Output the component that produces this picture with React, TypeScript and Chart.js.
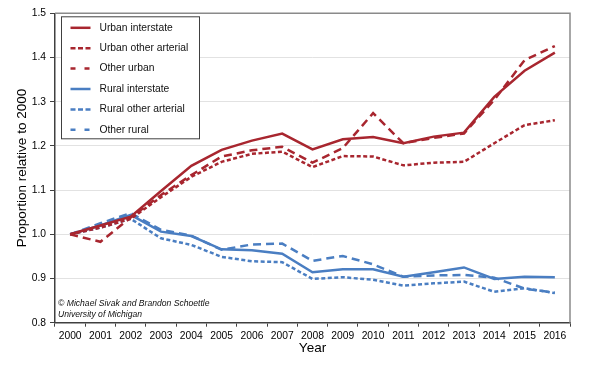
import React, { useEffect, useRef } from "react";
import { Chart, registerables } from "chart.js";

Chart.register(...registerables);

const years = ["2000","2001","2002","2003","2004","2005","2006","2007","2008","2009","2010","2011","2012","2013","2014","2015","2016"];
const urbanInterstate = [1.000,1.020,1.040,1.098,1.155,1.191,1.212,1.228,1.192,1.215,1.220,1.206,1.221,1.230,1.311,1.370,1.411];
const urbanOtherArterial = [1.000,1.015,1.035,1.084,1.130,1.164,1.182,1.187,1.152,1.177,1.176,1.156,1.162,1.164,1.206,1.247,1.258];
const otherUrban = [1.000,0.983,1.038,1.089,1.134,1.176,1.190,1.198,1.162,1.195,1.274,1.206,1.218,1.228,1.304,1.394,1.426];
const ruralInterstate = [1.000,1.020,1.044,1.006,0.996,0.966,0.964,0.956,0.914,0.921,0.921,0.904,0.914,0.925,0.899,0.904,0.903];
const ruralOtherArterial = [1.000,1.015,1.035,0.991,0.976,0.949,0.939,0.937,0.899,0.903,0.897,0.884,0.889,0.893,0.870,0.878,0.867];
const otherRural = [1.000,1.025,1.048,1.010,0.997,0.965,0.977,0.979,0.940,0.951,0.932,0.904,0.907,0.908,0.902,0.877,0.868];

const seriesLabels = ["Urban interstate","Urban other arterial","Other urban","Rural interstate","Rural other arterial","Other rural"];
const yTitle = "Proportion relative to 2000";
const xTitle = "Year";
const creditLines = ["\u00A9 Michael Sivak and Brandon Schoettle","University of Michigan"];

const RED = "#A8262F";
const BLUE = "#4A7EC2";
const FONT = "'Liberation Sans', Arial, sans-serif";

const extrasPlugin = {
  id: "extras",
  beforeDatasetsDraw(chart: any) {
    const { ctx, chartArea } = chart;
    ctx.save();
    ctx.strokeStyle = "#8a8a8a";
    ctx.lineWidth = 1.5;
    ctx.beginPath();
    ctx.moveTo(chartArea.left, chartArea.top);
    ctx.lineTo(chartArea.right, chartArea.top);
    ctx.lineTo(chartArea.right, chartArea.bottom);
    ctx.stroke();
    ctx.restore();
  },
  afterDatasetsDraw(chart: any) {
    const { ctx, chartArea } = chart;
    ctx.save();
    const bx = chartArea.left + 6.5;
    const by = chartArea.top + 3.5;
    const bw = 138;
    const bh = 122;
    ctx.fillStyle = "#ffffff";
    ctx.fillRect(bx, by, bw, bh);
    ctx.strokeStyle = "#404040";
    ctx.lineWidth = 1;
    ctx.strokeRect(bx, by, bw, bh);
    ctx.font = `10.3px ${FONT}`;
    ctx.textBaseline = "middle";
    ctx.textAlign = "left";
    chart.data.datasets.forEach((ds: any, i: number) => {
      const y = by + 11 + i * 20.4;
      ctx.strokeStyle = ds.borderColor;
      ctx.lineWidth = ds.borderWidth;
      ctx.setLineDash(ds.legendDash || ds.borderDash || []);
      ctx.beginPath();
      ctx.moveTo(bx + 9, y);
      ctx.lineTo(bx + 29, y);
      ctx.stroke();
      ctx.setLineDash([]);
      ctx.fillStyle = "#111111";
      ctx.fillText(ds.label, bx + 38, y);
    });
    ctx.font = `italic 8.6px ${FONT}`;
    ctx.fillStyle = "#111111";
    creditLines.forEach((t, i) => {
      ctx.fillText(t, chartArea.left + 3, 304 + i * 11);
    });
    ctx.restore();
  },
};

export default function App() {
  const ref = useRef<HTMLCanvasElement | null>(null);
  useEffect(() => {
    document.body.style.margin = "0";
    if (!ref.current) return;
    const mk = (label: string, data: number[], color: string, dash: number[], legendDash?: number[]) => ({
      label,
      data,
      borderColor: color,
      backgroundColor: color,
      borderWidth: 2.5,
      borderDash: dash,
      legendDash,
      pointRadius: 0,
      tension: 0,
      fill: false,
      borderCapStyle: "butt",
      borderJoinStyle: "miter",
    });
    const chart = new Chart(ref.current, {
      type: "line",
      data: {
        labels: years,
        datasets: [
          mk(seriesLabels[0], urbanInterstate, RED, []),
          mk(seriesLabels[1], urbanOtherArterial, RED, [4, 2.5], [5, 2.5]),
          mk(seriesLabels[2], otherUrban, RED, [8, 5], [5, 9]),
          mk(seriesLabels[3], ruralInterstate, BLUE, []),
          mk(seriesLabels[4], ruralOtherArterial, BLUE, [4, 2.5], [5, 2.5]),
          mk(seriesLabels[5], otherRural, BLUE, [8, 5], [5, 9]),
        ] as any,
      },
      options: {
        animation: false,
        responsive: true,
        maintainAspectRatio: false,
        layout: { padding: { top: 13.3, right: 20, left: 0, bottom: 0 } },
        plugins: { legend: { display: false }, tooltip: { enabled: false } },
        scales: {
          x: {
            type: "category",
            offset: true,
            afterFit: (s: any) => { s.height = 45.3; },
            grid: {
              offset: true,
              drawOnChartArea: false,
              drawTicks: true,
              tickLength: 4,
              tickColor: "#404040",
              tickWidth: 1,
            },
            border: { color: "#404040", width: 1.5 },
            ticks: { color: "#000", font: { family: FONT, size: 10.3 }, padding: 3, maxRotation: 0, autoSkip: false },
            title: { display: true, text: xTitle, color: "#000", font: { family: FONT, size: 13.5 }, padding: { top: 0, bottom: 11.5 } },
          },
          y: {
            min: 0.8,
            max: 1.5,
            afterFit: (s: any) => { s.width = 55; },
            grid: { color: "#e2e2e2", lineWidth: 1, drawTicks: true, tickLength: 5, tickColor: "#404040" },
            border: { color: "#404040", width: 1.5 },
            ticks: {
              stepSize: 0.1,
              color: "#000",
              font: { family: FONT, size: 10.3 },
              padding: 4,
              callback: (v: any) => Number(v).toFixed(1),
            },
            title: { display: true, text: yTitle, color: "#000", font: { family: FONT, size: 13.5 }, padding: { top: 14.5, bottom: 0 } },
          },
        },
      } as any,
      plugins: [extrasPlugin],
    });
    return () => chart.destroy();
  }, []);
  return (
    <div style={{ position: "relative", width: 590, height: 368 }}>
      <canvas ref={ref} />
    </div>
  );
}
